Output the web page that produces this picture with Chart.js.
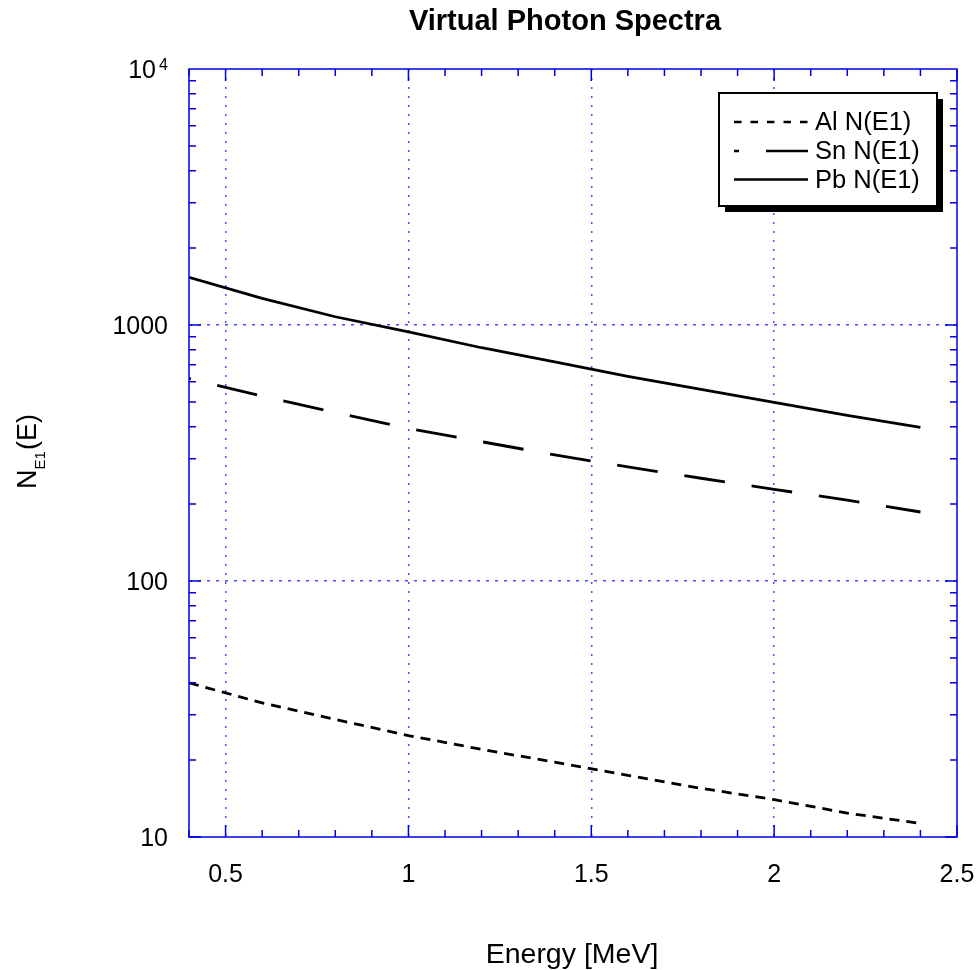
<!DOCTYPE html>
<html>
<head>
<meta charset="utf-8">
<title>Virtual Photon Spectra</title>
<script src="https://cdn.jsdelivr.net/npm/chart.js@4"></script>
<style>
    html, body { margin: 0; padding: 0; background: #fff; }
    canvas { display: block; }
</style>
</head>
<body>
<canvas id="spectraChart" width="977" height="970"></canvas>
<script>
// photon energy [MeV] and the E1 virtual photon numbers per target
const energy = [0.4, 0.6, 0.8, 1.0, 1.2, 1.4, 1.6, 1.8, 2.0, 2.2, 2.4];
const alN = [40, 33.4, 28.8, 24.9, 22.0, 19.6, 17.4, 15.5, 14.0, 12.4, 11.3];
const snN = [618, 527, 455, 394, 350, 311, 279, 252, 228, 207, 186];
const pbN = [1535, 1271, 1077, 940, 815, 718, 630, 560, 499, 444, 398];

const seriesNames = ['Al N(E1)', 'Sn N(E1)', 'Pb N(E1)'];
const xTickLabels = ['0.5', '1', '1.5', '2', '2.5'];
const yTickValues = [10, 100, 1000];

const FONT = '"Liberation Sans", Arial, Helvetica, sans-serif';
const AXIS_BLUE = '#0000e0';
const GRID_BLUE = 'rgba(30, 30, 255, 0.8)';

function points(ys) {
    return energy.map((x, i) => ({ x: x, y: ys[i] }));
}

// frame, inward ticks, labels, titles and the boxed legend
const framePlugin = {
    id: 'frame',
    afterDraw(chart) {
        const ctx = chart.ctx;
        const area = chart.chartArea;
        const xs = chart.scales.x;
        const ys = chart.scales.y;

        ctx.save();
        ctx.strokeStyle = AXIS_BLUE;
        ctx.lineWidth = 1.5;
        ctx.strokeRect(area.left, area.top, area.right - area.left, area.bottom - area.top);

        // x ticks every 0.1, longer at the labelled values
        ctx.beginPath();
        for (let i = 4; i <= 25; i++) {
            const px = xs.getPixelForValue(i / 10);
            const len = (i % 5 === 0) ? 12 : 7;
            ctx.moveTo(px, area.bottom);
            ctx.lineTo(px, area.bottom - len);
            ctx.moveTo(px, area.top);
            ctx.lineTo(px, area.top + len);
        }
        // log ticks on the y axis
        for (let d = 10; d < 10000; d *= 10) {
            for (let m = 1; m <= 9; m++) {
                const py = ys.getPixelForValue(d * m);
                const len = (m === 1) ? 12 : 7;
                ctx.moveTo(area.left, py);
                ctx.lineTo(area.left + len, py);
                ctx.moveTo(area.right, py);
                ctx.lineTo(area.right - len, py);
            }
        }
        ctx.stroke();

        ctx.fillStyle = '#000';
        ctx.font = '25px ' + FONT;

        // x tick labels
        ctx.textAlign = 'center';
        ctx.textBaseline = 'alphabetic';
        xTickLabels.forEach(t => {
            ctx.fillText(t, xs.getPixelForValue(parseFloat(t)), 881.5);
        });

        // y tick labels
        ctx.textAlign = 'right';
        yTickValues.forEach(v => {
            ctx.fillText(String(v), 168, ys.getPixelForValue(v) + 9);
        });
        const topY = ys.getPixelForValue(10000);
        ctx.fillText('10', 156, topY + 9);
        ctx.font = '16px ' + FONT;
        ctx.textAlign = 'left';
        ctx.fillText('4', 159, topY + 1);

        // titles
        ctx.textAlign = 'center';
        ctx.font = 'bold 29px ' + FONT;
        ctx.fillText('Virtual Photon Spectra', 565, 30);
        ctx.font = '28.5px ' + FONT;
        ctx.fillText('Energy [MeV]', 572, 962.5);

        // rotated y axis title N_E1(E)
        ctx.save();
        ctx.translate(36, 452);
        ctx.rotate(-Math.PI / 2);
        ctx.textAlign = 'left';
        ctx.font = '27px ' + FONT;
        const wN = ctx.measureText('N').width;
        ctx.font = '15px ' + FONT;
        const wSub = ctx.measureText('E1').width;
        ctx.font = '27px ' + FONT;
        const wE = ctx.measureText('(E)').width;
        const x0 = -(wN + wSub + wE) / 2;
        ctx.fillText('N', x0, 0);
        ctx.font = '15px ' + FONT;
        ctx.fillText('E1', x0 + wN, 9);
        ctx.font = '27px ' + FONT;
        ctx.fillText('(E)', x0 + wN + wSub + 1, 0);
        ctx.restore();

        // legend box with drop shadow
        const lx = 719, ly = 93, lw = 218, lh = 113;
        ctx.fillStyle = '#000';
        ctx.fillRect(lx + 6, ly + 6, lw, lh);
        ctx.fillStyle = '#fff';
        ctx.fillRect(lx, ly, lw, lh);
        ctx.strokeStyle = '#000';
        ctx.lineWidth = 2;
        ctx.strokeRect(lx, ly, lw, lh);

        const rows = [122, 151, 179.5];
        const dashes = [[7.5, 9], [42, 27], []];
        const offsets = [0, 37, 0];
        ctx.font = '25.5px ' + FONT;
        ctx.textBaseline = 'middle';
        ctx.textAlign = 'left';
        chart.data.datasets.forEach((ds, i) => {
            ctx.save();
            ctx.lineWidth = 2.7;
            ctx.setLineDash(dashes[i]);
            ctx.lineDashOffset = offsets[i];
            ctx.beginPath();
            ctx.moveTo(734, rows[i]);
            ctx.lineTo(808, rows[i]);
            ctx.stroke();
            ctx.restore();
            ctx.fillStyle = '#000';
            ctx.fillText(ds.label, 815, rows[i] + 1);
        });

        ctx.restore();
    }
};

new Chart(document.getElementById('spectraChart'), {
    type: 'line',
    data: {
        datasets: [{
            label: seriesNames[0],
            data: points(alN),
            borderColor: '#000',
            borderWidth: 2.8,
            borderDash: [10, 7],
            pointRadius: 0
        }, {
            label: seriesNames[1],
            data: points(snN),
            borderColor: '#000',
            borderWidth: 2.8,
            borderDash: [41, 27],
            borderDashOffset: 39,
            pointRadius: 0
        }, {
            label: seriesNames[2],
            data: points(pbN),
            borderColor: '#000',
            borderWidth: 2.8,
            pointRadius: 0
        }]
    },
    options: {
        responsive: false,
        animation: false,
        devicePixelRatio: 1,
        layout: {
            padding: { left: 189, top: 69, right: 20, bottom: 133 }
        },
        scales: {
            x: {
                type: 'linear',
                min: 0.4,
                max: 2.5,
                afterBuildTicks: function (scale) {
                    scale.ticks = [0.5, 1, 1.5, 2].map(v => ({ value: v }));
                },
                ticks: { display: false },
                // in v4 the border dash is what dots the grid lines
                border: { display: false, dash: [2, 7] },
                grid: {
                    color: GRID_BLUE,
                    lineWidth: 1.5,
                    drawTicks: false
                }
            },
            y: {
                type: 'logarithmic',
                min: 10,
                max: 10000,
                afterBuildTicks: function (scale) {
                    scale.ticks = [100, 1000].map(v => ({ value: v }));
                },
                ticks: { display: false },
                border: { display: false, dash: [3, 6] },
                grid: {
                    color: GRID_BLUE,
                    lineWidth: 1.5,
                    drawTicks: false
                }
            }
        },
        plugins: {
            legend: { display: false },
            tooltip: { enabled: false }
        }
    },
    plugins: [framePlugin]
});
</script>
</body>
</html>
